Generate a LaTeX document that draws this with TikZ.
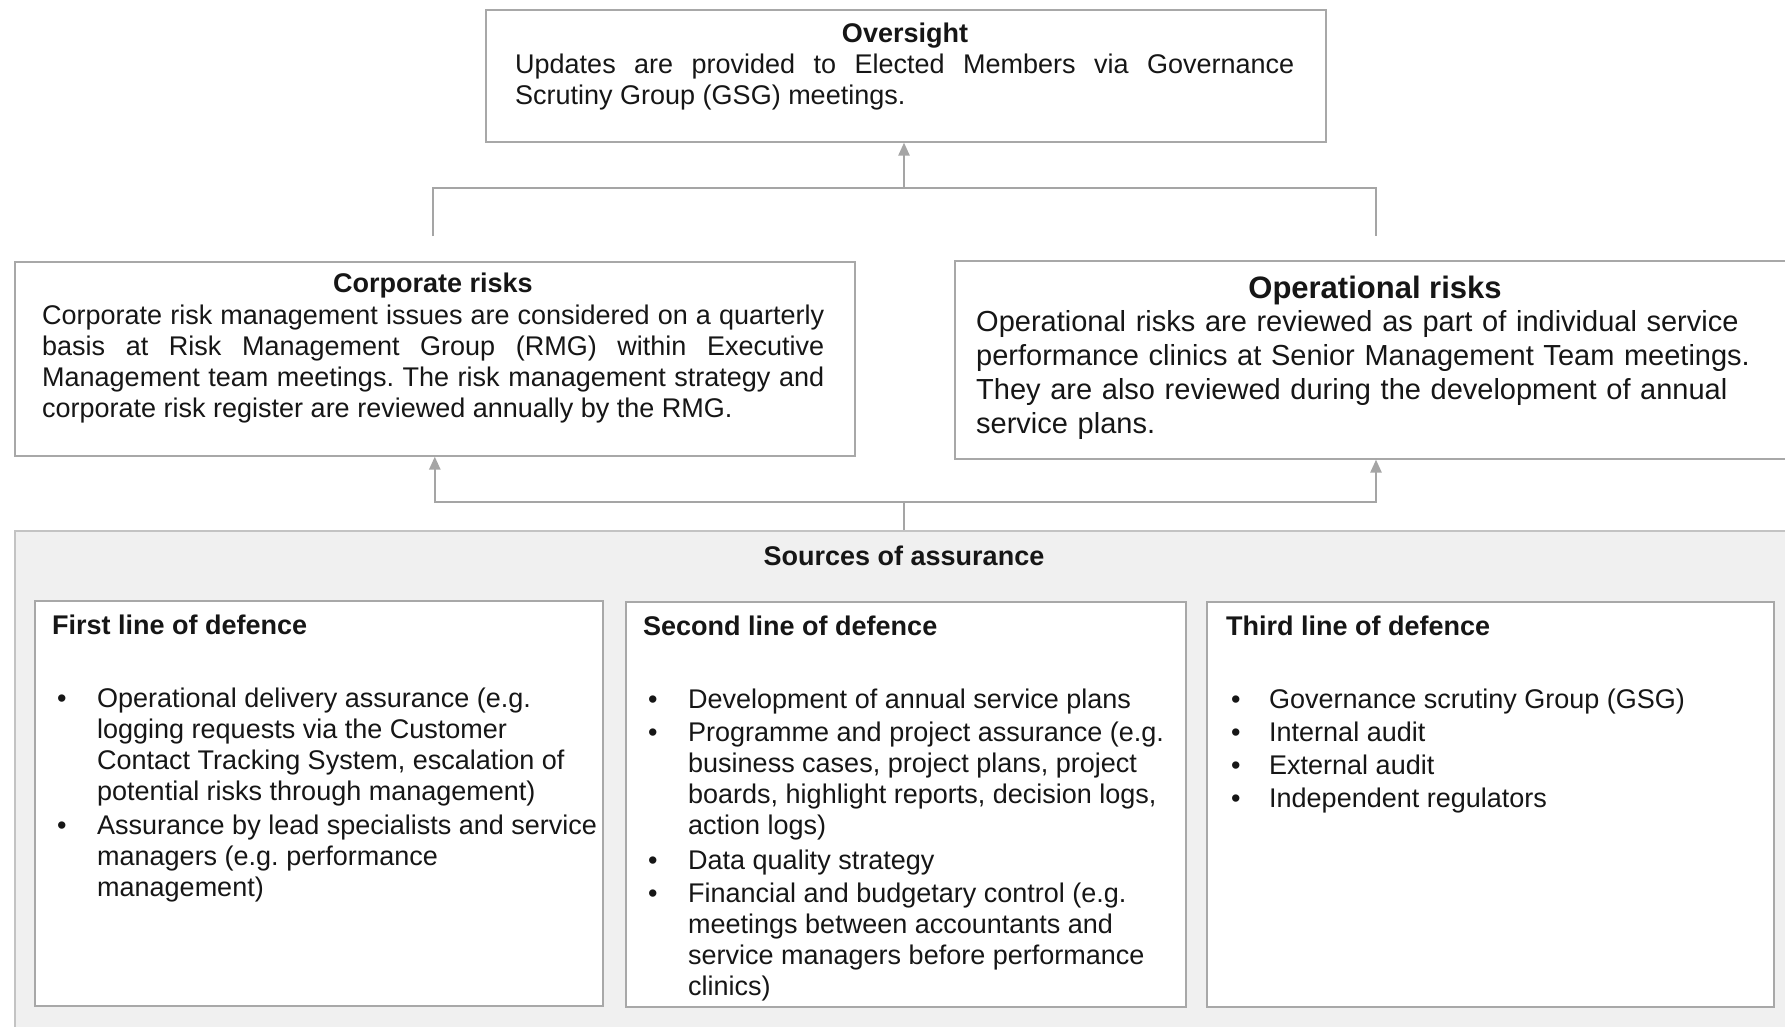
\documentclass[tikz,border=0pt]{standalone}
\usepackage{fontspec}
\setmainfont{Liberation Sans}
\frenchspacing
\usetikzlibrary{arrows.meta}
\definecolor{boxline}{RGB}{168,168,168}
\definecolor{conline}{RGB}{165,165,165}
\definecolor{srcfill}{RGB}{240,240,240}
\definecolor{srcline}{RGB}{195,195,195}
\definecolor{txt}{RGB}{22,22,22}
\newcommand{\bul}{\makebox[45pt][l]{\hspace*{5pt}\textbullet}}
\newcommand{\bulc}{\makebox[43pt][l]{\hspace*{5pt}\textbullet}}
\begin{document}
\begin{tikzpicture}[x=1pt,y=-1pt,
  box/.style={draw=boxline, line width=1.6pt, fill=white, rectangle, inner sep=0pt, anchor=north west},
  srcbox/.style={draw=srcline, line width=1.6pt, fill=srcfill, rectangle, inner sep=0pt, anchor=north west},
  conn/.style={draw=conline, line width=2.4pt},
  arr/.style={conn, -{Triangle[width=11pt,length=13pt]}},
  ttl/.style={font=\fontsize{27}{31}\selectfont\bfseries, inner sep=0pt, text=txt, anchor=base},
  body/.style={font=\fontsize{27}{31}\selectfont, inner sep=0pt, text=txt, anchor=base west},
  opbody/.style={font=\fontsize{29}{34}\selectfont, inner sep=0pt, text=txt, anchor=base west, text width=800pt, align=left},
]
\clip (0,0) rectangle (1785,1027);
\fill[white] (0,0) rectangle (1785,1027);

% boxes
\node[box, minimum width=840pt, minimum height=132pt] (over) at (485,9) {};
\node[box, minimum width=840pt, minimum height=194pt] (corp) at (14,261) {};
\node[box, minimum width=900pt, minimum height=198pt] (oper) at (954,260) {};
\node[srcbox, minimum width=1850pt, minimum height=600pt] (src) at (14,530) {};
\node[box, minimum width=568pt, minimum height=405pt] (first) at (34,600) {};
\node[box, minimum width=560pt, minimum height=405pt] (second) at (625,601) {};
\node[box, minimum width=567pt, minimum height=405pt] (third) at (1206,601) {};

% oversight text
\node[ttl] (overT) at (905,43) {Oversight};
\node[body, text width=779pt, align=justify] (overB) at (515,74)
  {\tolerance=10000 Updates are provided to Elected Members via Governance\linebreak Scrutiny Group (GSG) meetings.};

% corporate text
\node[ttl] (corpT) at (433,292) {Corporate risks};
\node[body, text width=782pt, align=justify] (corpB) at (42,324)
  {\tolerance=10000 Corporate risk management issues are considered on a quarterly\linebreak basis at Risk Management Group (RMG) within Executive\linebreak Management team meetings. The risk management strategy and\linebreak corporate risk register are reviewed annually by the RMG.};

% operational text
\node[ttl, font=\fontsize{31}{36}\selectfont\bfseries] (operT) at (1375,298) {Operational risks};
\node[opbody] (operB) at (976,331)
  {Operational risks are reviewed as part of individual service\\
   performance clinics at Senior Management Team meetings.\\
   They are also reviewed during the development of annual\\
   service plans.};

% sources
\node[ttl] (srcT) at (904,565) {Sources of assurance};

\node[ttl, anchor=base west] (firstT) at (52,634) {First line of defence};
\node[body] (firstB) at (52,707) {\begin{tabular}[t]{@{}l@{}l@{}}
\bul & Operational delivery assurance (e.g.\\
 & logging requests via the Customer\\
 & Contact Tracking System, escalation of\\
 & potential risks through management)\\[3pt]
\bul & Assurance by lead specialists and service\\
 & managers (e.g. performance\\
 & management)
\end{tabular}};

\node[ttl, anchor=base west] (secondT) at (643,635) {Second line of defence};
\node[body] (secondB) at (643,708) {\begin{tabular}[t]{@{}l@{}l@{}}
\bul & Development of annual service plans\\[2pt]
\bul & Programme and project assurance (e.g.\\
 & business cases, project plans, project\\
 & boards, highlight reports, decision logs,\\
 & action logs)\\[4pt]
\bul & Data quality strategy\\[2pt]
\bul & Financial and budgetary control (e.g.\\
 & meetings between accountants and\\
 & service managers before performance\\
 & clinics)
\end{tabular}};

\node[ttl, anchor=base west] (thirdT) at (1226,635) {Third line of defence};
\node[body] (thirdB) at (1226,708) {\begin{tabular}[t]{@{}l@{}l@{}}
\bulc & Governance scrutiny Group (GSG)\\[2pt]
\bulc & Internal audit\\[2pt]
\bulc & External audit\\[2pt]
\bulc & Independent regulators
\end{tabular}};

% upper connectors
\coordinate (tl) at (433,236);
\coordinate (tr) at (1376,236);
\coordinate (tm) at (904,188);
\draw[conn] (tl) -- (tl |- tm) -- (tr |- tm) -- (tr);
\draw[arr] (tm) -- (tm |- over.south);

% lower connectors
\coordinate (bm) at (904,502);
\draw[conn] (bm |- src.north) -- (bm);
\draw[arr] (bm) -| (corp.south);
\draw[arr] (bm) -| (tr |- oper.south);
\end{tikzpicture}
\end{document}
